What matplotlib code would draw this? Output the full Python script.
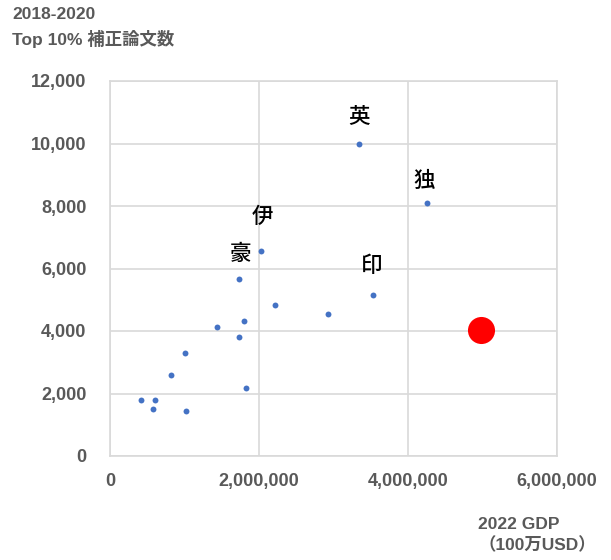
import matplotlib
matplotlib.use("Agg")
import matplotlib.pyplot as plt
from matplotlib.ticker import FuncFormatter

plt.rcParams['font.family'] = ['Liberation Sans', 'Noto Sans CJK JP', 'DejaVu Sans']

# GDP 2022 (million USD) vs top-10% adjusted paper count 2018-2020
gdp = [2030000, 1730000, 2210000, 2920000, 1800000, 1430000, 1730000, 1000000,
       820000, 1820000, 410000, 610000, 580000, 1020000, 3340000, 4250000, 3530000]
papers = [6550, 5670, 4840, 4530, 4330, 4130, 3820, 3300,
          2580, 2170, 1800, 1800, 1490, 1450, 10000, 8090, 5150]

# labelled countries: (name, gdp, papers)
label_names = ["英", "独", "印", "伊", "豪"]
label_gdp = [3340000, 4250000, 3530000, 2030000, 1730000]
label_papers = [10000, 8090, 5150, 6550, 5670]
label_dx = [0, -35000, -20000, 10000, 20000]   # nudges in data units
label_dy = [850, 700, 930, 1080, 780]

# highlighted point
hl_gdp = [4980000]
hl_papers = [4030]

GRAY = "#595959"
GRID = "#d9d9d9"

fig = plt.figure(figsize=(6.11, 5.6), dpi=100)
ax = fig.add_axes([110 / 611, 1 - 456 / 560, 447 / 611, 375 / 560])

ax.scatter(gdp, papers, s=18, color="#4472C4", zorder=3, linewidths=0)
ax.scatter(hl_gdp, hl_papers, s=380, color="#FF0000", zorder=4, linewidths=0)

for name, x, y, dx, dy in zip(label_names, label_gdp, label_papers, label_dx, label_dy):
    ax.text(x + dx, y + dy, name, ha="center", va="center", fontsize=15.5,
            fontweight="medium", color="black", zorder=5)

ax.set_xlim(0, 6000000)
ax.set_ylim(0, 12000)
ax.set_xticks([0, 2000000, 4000000, 6000000])
ax.set_yticks(range(0, 12001, 2000))
ax.xaxis.set_major_formatter(FuncFormatter(lambda v, p: f"{int(v):,}"))
ax.yaxis.set_major_formatter(FuncFormatter(lambda v, p: f"{int(v):,}"))
ax.tick_params(axis="y", length=0, labelsize=13, labelcolor=GRAY, pad=17)
ax.tick_params(axis="x", length=0, labelsize=13, labelcolor=GRAY, pad=12)
for lab in ax.get_xticklabels() + ax.get_yticklabels():
    lab.set_fontweight("bold")

ax.grid(True, color=GRID, linewidth=1.2, zorder=0)
ax.set_axisbelow(True)
for sp in ax.spines.values():
    sp.set_color(GRID)
    sp.set_linewidth(1.2)

fig.text(12 / 611, 1 - 7 / 560, "2018-2020\nTop 10% 補正論文数", ha="left", va="top",
         fontsize=12.5, fontweight="bold", color=GRAY, linespacing=1.55)
fig.text(478 / 611, 1 - 535 / 560, "2022 GDP\n（100万USD）", ha="left", va="center",
         fontsize=12.5, fontweight="bold", color=GRAY, linespacing=1.35)

fig.savefig("out.png", dpi=100)
